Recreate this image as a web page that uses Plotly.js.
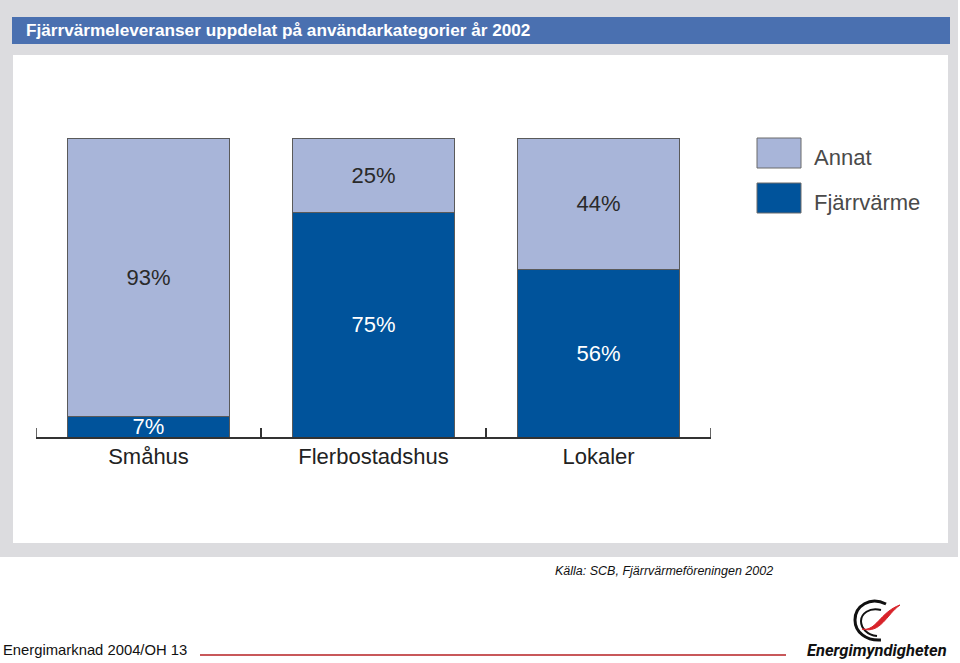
<!DOCTYPE html>
<html>
<head>
<meta charset="utf-8">
<script src="https://cdn.plot.ly/plotly-3.0.1.min.js"></script>
<style>html,body{margin:0;padding:0;background:#fff;}#chart{width:960px;height:663px;}</style>
</head>
<body>
<div id="chart"></div>
<script>
// ---- data ----
const categories = ['Småhus', 'Flerbostadshus', 'Lokaler'];
const seriesNames = ['Fjärrvärme', 'Annat'];
const fjarrvarme = [7, 75, 56];
const annat = [93, 25, 44];
const chartTitle = 'Fjärrvärmeleveranser uppdelat på användarkategorier år 2002';
const sourceText = 'Källa: SCB, Fjärrvärmeföreningen 2002';
const footerText = 'Energimarknad 2004/OH 13';
const logoText = 'Energimyndigheten';

// ---- geometry helpers (pixel -> paper) ----
const W = 960, H = 663, L = 36, R = 711, T = 138, B = 437;
function px(x) { return (x - L) / (R - L); }
function py(y) { return (B - y) / (B - T); }
function pathPx(s) {
  const tok = s.trim().split(/[\s,]+/);
  let out = [], isX = true;
  tok.forEach(t => {
    if (/^[A-Za-z]$/.test(t)) { out.push(t); isX = true; }
    else { const v = parseFloat(t); out.push(isX ? px(v).toFixed(5) : py(v).toFixed(5)); isX = !isX; }
  });
  return out.join(' ');
}

const darkBlue = '#00539b';
const lightBlue = '#a8b5d9';
const font = 'Liberation Sans, Arial, Helvetica, sans-serif';

const traces = [
  {
    type: 'bar', name: seriesNames[0], x: categories, y: fjarrvarme,
    text: fjarrvarme.map(v => v + '%'), textposition: 'inside', insidetextanchor: 'middle',
    textfont: { family: font, size: 22, color: '#ffffff' },
    marker: { color: darkBlue, line: { color: '#5a5a5a', width: 1 } },
    width: 0.72, hoverinfo: 'skip', cliponaxis: false
  },
  {
    type: 'bar', name: seriesNames[1], x: categories, y: annat,
    text: annat.map(v => v + '%'), textposition: 'inside', insidetextanchor: 'middle',
    textfont: { family: font, size: 22, color: '#2a2a2a' },
    marker: { color: lightBlue, line: { color: '#5a5a5a', width: 1 } },
    width: 0.72, hoverinfo: 'skip', cliponaxis: false
  }
];

const shapes = [
  // gray frame
  { type: 'rect', xref: 'paper', yref: 'paper', layer: 'below', x0: px(0), x1: px(958), y0: py(0), y1: py(557), fillcolor: '#dcdcdf', line: { width: 0 } },
  // white panel
  { type: 'rect', xref: 'paper', yref: 'paper', layer: 'below', x0: px(13), x1: px(948), y0: py(55), y1: py(543), fillcolor: '#ffffff', line: { width: 0 } },
  // title bar
  { type: 'rect', xref: 'paper', yref: 'paper', layer: 'below', x0: px(12), x1: px(950), y0: py(17), y1: py(44), fillcolor: '#4a70b0', line: { width: 0 } },
  // outer boundary ticks of the category axis
  { type: 'line', xref: 'x', yref: 'paper', x0: -0.5, x1: -0.5, y0: 0, y1: 9 / (B - T), line: { color: '#333', width: 1.5 } },
  { type: 'line', xref: 'x', yref: 'paper', x0: 2.5, x1: 2.5, y0: 0, y1: 9 / (B - T), line: { color: '#333', width: 1.5 } },
  // legend swatches
  { type: 'rect', xref: 'paper', yref: 'paper', x0: px(757), x1: px(801), y0: py(138), y1: py(168), fillcolor: lightBlue, line: { color: '#6a6a6a', width: 1 } },
  { type: 'rect', xref: 'paper', yref: 'paper', x0: px(757), x1: px(801), y0: py(183), y1: py(213), fillcolor: darkBlue, line: { color: '#6a6a6a', width: 1 } },
  // footer red line
  { type: 'line', xref: 'paper', yref: 'paper', x0: px(200), x1: px(786), y0: py(655), y1: py(655), line: { color: '#c8585a', width: 2 } },
  // logo
  { type: 'path', xref: 'paper', yref: 'paper', path: pathPx('M 886 604 C 870 596 855 606 855 620 C 855 632 866 641 881 640'), line: { color: '#111', width: 3 } },
  { type: 'path', xref: 'paper', yref: 'paper', path: pathPx('M 881 610 C 869 607 861 614 861 621 C 861 628 867 635 877 636'), line: { color: '#111', width: 2 } },
  { type: 'path', xref: 'paper', yref: 'paper', path: pathPx('M 862 629 C 876 632 880 612 900 605 C 886 615 881 634 862 629 Z'), fillcolor: '#d8232a', line: { color: '#d8232a', width: 1 } }
];

const annotations = [
  { text: chartTitle, xref: 'paper', yref: 'paper', x: px(24), y: py(30.5), xanchor: 'left', yanchor: 'middle', showarrow: false,
    font: { family: font, size: 17.2, color: '#ffffff', weight: 'bold' } },
  { text: seriesNames[1], xref: 'paper', yref: 'paper', x: px(812), y: py(157), xanchor: 'left', yanchor: 'middle', showarrow: false,
    font: { family: font, size: 22, color: '#4a4a4a' } },
  { text: seriesNames[0], xref: 'paper', yref: 'paper', x: px(812), y: py(202), xanchor: 'left', yanchor: 'middle', showarrow: false,
    font: { family: font, size: 22, color: '#4a4a4a' } },
  { text: sourceText, xref: 'paper', yref: 'paper', x: px(553), y: py(571), xanchor: 'left', yanchor: 'middle', showarrow: false,
    font: { family: font, size: 12.5, color: '#111', style: 'italic' } },
  { text: footerText, xref: 'paper', yref: 'paper', x: px(1), y: py(650), xanchor: 'left', yanchor: 'middle', showarrow: false,
    font: { family: font, size: 14.8, color: '#111' } },
  { text: logoText, xref: 'paper', yref: 'paper', x: px(805), y: py(650), xanchor: 'left', yanchor: 'middle', showarrow: false,
    font: { family: 'Roboto, sans-serif', size: 16.5, color: '#111', weight: 'bold', style: 'italic' } }
];

const layout = {
  width: W, height: H, autosize: false,
  margin: { l: L, r: W - R, t: T, b: H - B, pad: 0 },
  paper_bgcolor: '#ffffff', plot_bgcolor: 'rgba(0,0,0,0)',
  barmode: 'stack', showlegend: false,
  uniformtext: { minsize: 22, mode: 'show' },
  xaxis: {
    type: 'category', range: [-0.5, 2.5], fixedrange: true,
    showline: true, linecolor: '#333', linewidth: 1.5,
    ticks: 'inside', tickson: 'boundaries', ticklen: 9, tickwidth: 1.5, tickcolor: '#333',
    tickfont: { family: font, size: 22, color: '#222' }, showgrid: false, zeroline: false,
    ticklabelstandoff: -1
  },
  yaxis: { range: [0, 100], visible: false, fixedrange: true, showgrid: false, zeroline: false },
  shapes: shapes, annotations: annotations
};

Plotly.newPlot('chart', traces, layout, { displayModeBar: false, staticPlot: true });
</script>
</body>
</html>
